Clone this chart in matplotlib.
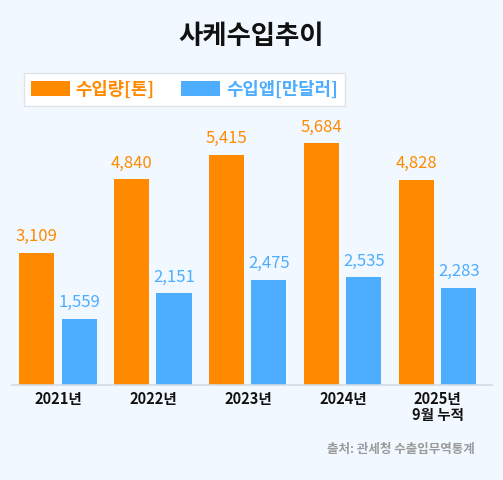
import matplotlib
matplotlib.use("Agg")
import matplotlib.pyplot as plt
import numpy as np

plt.rcParams['font.family'] = ['Noto Sans CJK KR', 'DejaVu Sans']

years = ['2021년', '2022년', '2023년', '2024년', '2025년\n9월 누적']
volume_ton = [3109, 4840, 5415, 5684, 4828]
value_10k_usd = [1559, 2151, 2475, 2535, 2283]
series_names = ['수입량[톤]', '수입앱[만달러]']

ORANGE = '#FF8A00'
BLUE = '#4DADFF'
BG = '#F2F8FF'

fig = plt.figure(figsize=(5.03, 4.8), dpi=100, facecolor=BG)
ax = fig.add_axes([0.024, 0.198, 0.954, 0.594])
ax.set_facecolor(BG)

x = np.arange(len(years))
w = 0.37
b1 = ax.bar(x - 0.225, volume_ton, width=w, color=ORANGE, label=series_names[0])
b2 = ax.bar(x + 0.22, value_10k_usd, width=w, color=BLUE, label=series_names[1])

for bars, color in ((b1, ORANGE), (b2, BLUE)):
    for r in bars:
        ax.annotate(f"{int(r.get_height()):,}",
                    (r.get_x() + r.get_width() / 2, r.get_height()),
                    xytext=(0, 11.5), textcoords='offset points',
                    ha='center', va='center', fontsize=12, color=color)

ax.set_xlim(-0.486, 4.57)
ax.set_ylim(0, 6700)
ax.set_yticks([])
ax.set_xticks(x)
ax.set_xticklabels(years, fontsize=10.5, color='#111111', linespacing=1.05,
                   fontweight='bold')
ax.tick_params(axis='x', length=0, pad=4)
for s in ['top', 'right', 'left']:
    ax.spines[s].set_visible(False)
ax.spines['bottom'].set_color('#D3DAE2')
ax.spines['bottom'].set_linewidth(1.2)

fig.text(0.5, 1 - 37 / 480, '사케수입추이', ha='center', va='center',
         fontsize=19, fontweight='bold', color='#111111')

leg = ax.legend(loc='center left', bbox_to_anchor=(24 / 503, 1 - 89.5 / 480),
                bbox_transform=fig.transFigure, ncol=2,
                labelcolor=[ORANGE, BLUE], frameon=True, fancybox=False,
                handlelength=2.2, handleheight=0.95, handletextpad=0.3,
                columnspacing=1.5, borderpad=0.4, borderaxespad=0,
                prop={'weight': 'bold', 'size': 12.8})
leg.get_frame().set_facecolor('white')
leg.get_frame().set_edgecolor('#E0E4E8')
leg.get_frame().set_linewidth(1.0)
leg.get_frame().set_alpha(1)

fig.text(475 / 503, 1 - 449 / 480, '출처: 관세청 수출입무역통계', ha='right',
         va='center', fontsize=9, color='#9A9A9A', fontweight='bold')

fig.savefig('out.png', dpi=100, facecolor=BG)
